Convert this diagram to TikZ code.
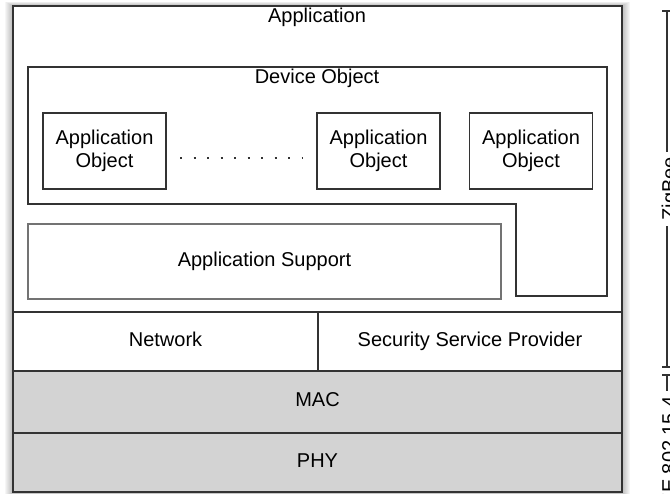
\documentclass[tikz,border=0pt]{standalone}
\usepackage{fontspec}
\setmainfont{Liberation Sans}
\usetikzlibrary{positioning}
\definecolor{edge}{HTML}{333333}
\definecolor{lowfill}{HTML}{D3D3D3}

\begin{document}
\begin{tikzpicture}[x=1pt,y=-1pt,
    box/.style={draw=edge,line width=1.3pt,inner sep=0pt,outer sep=0pt},
    lbl/.style={inner sep=0pt,font=\fontsize{20}{23}\selectfont,align=center},
    oneline/.style={text height=14.5pt,text depth=4.5pt}]
    \useasboundingbox (0,0) rectangle (670,494);
    % soft shadow round the stack
    \foreach \d in {1,...,8}{
      \fill[black,opacity=0.035] (13-\d,6-0.5*\d) rectangle (622+\d,492+\d);
    }
    \node[box,fill=white,minimum width=609,minimum height=486] (app) at (317.5,249) {};
    \node[lbl,oneline] (apptitle) at (317,18) {Application};

    % device object
    \draw[box] (28,67) -- (607,67) -- (607,296) -- (516,296) -- (516,204) -- (28,204) -- cycle;
    \node[lbl,oneline] (devtitle) at (317,79) {Device Object};
    \foreach \x/\n in {104.5/a,378.5/b,531/c}{
      \node[box,lbl,minimum width=123,minimum height=76] (obj\n) at (\x,151) {Application\\Object};
    }
    \draw[edge,line width=1.2pt,dash pattern=on 2pt off 11.5pt]
      ([shift={(14,7)}]obja.east) -- ([shift={(-14,7)}]objb.west);

    \node[box,lbl,oneline,draw=black!55,line width=1.8pt,minimum width=473,minimum height=75] (aps) at (264.5,261.5) {Application Support};

    % lower layers
    \node[box,lbl,oneline,minimum width=305,minimum height=59] (nwk) at (165.5,341.5) {Network};
    \node[box,lbl,oneline,minimum width=304,minimum height=59] (ssp) at (470,341.5) {Security Service Provider};
    \node[box,lbl,oneline,fill=lowfill,minimum width=609,minimum height=62] (mac) at (317.5,402) {MAC};
    \node[box,lbl,oneline,fill=lowfill,minimum width=609,minimum height=59] (phy) at (317.5,462.5) {PHY};

    % brackets on the right
    \coordinate (zbtop) at (667,11);
    \coordinate (zbbot) at (667,367);
    \coordinate (ieeetop) at (667,375);
    \node[lbl,rotate=90,anchor=base east] (zigbee) at (676,157) {ZigBee};
    \node[lbl,rotate=90,anchor=base east] (ieee) at (676,396) {IEEE 802.15.4};
    \draw[edge,line width=1.2pt,shorten >=5pt] (zbtop) -- (zbtop |- zigbee.east);
    \draw[edge,line width=1.2pt,shorten >=5pt] (zbbot) -- (zbbot |- zigbee.west);
    \draw[edge,line width=1.2pt,shorten >=5pt] (ieeetop) -- (ieeetop |- ieee.east);
    \foreach \c in {zbtop,zbbot,ieeetop}{
      \draw[edge,line width=1.2pt] ([shift={(-5,0)}]\c) -- ([shift={(5,0)}]\c);
    }
\end{tikzpicture}
\end{document}
